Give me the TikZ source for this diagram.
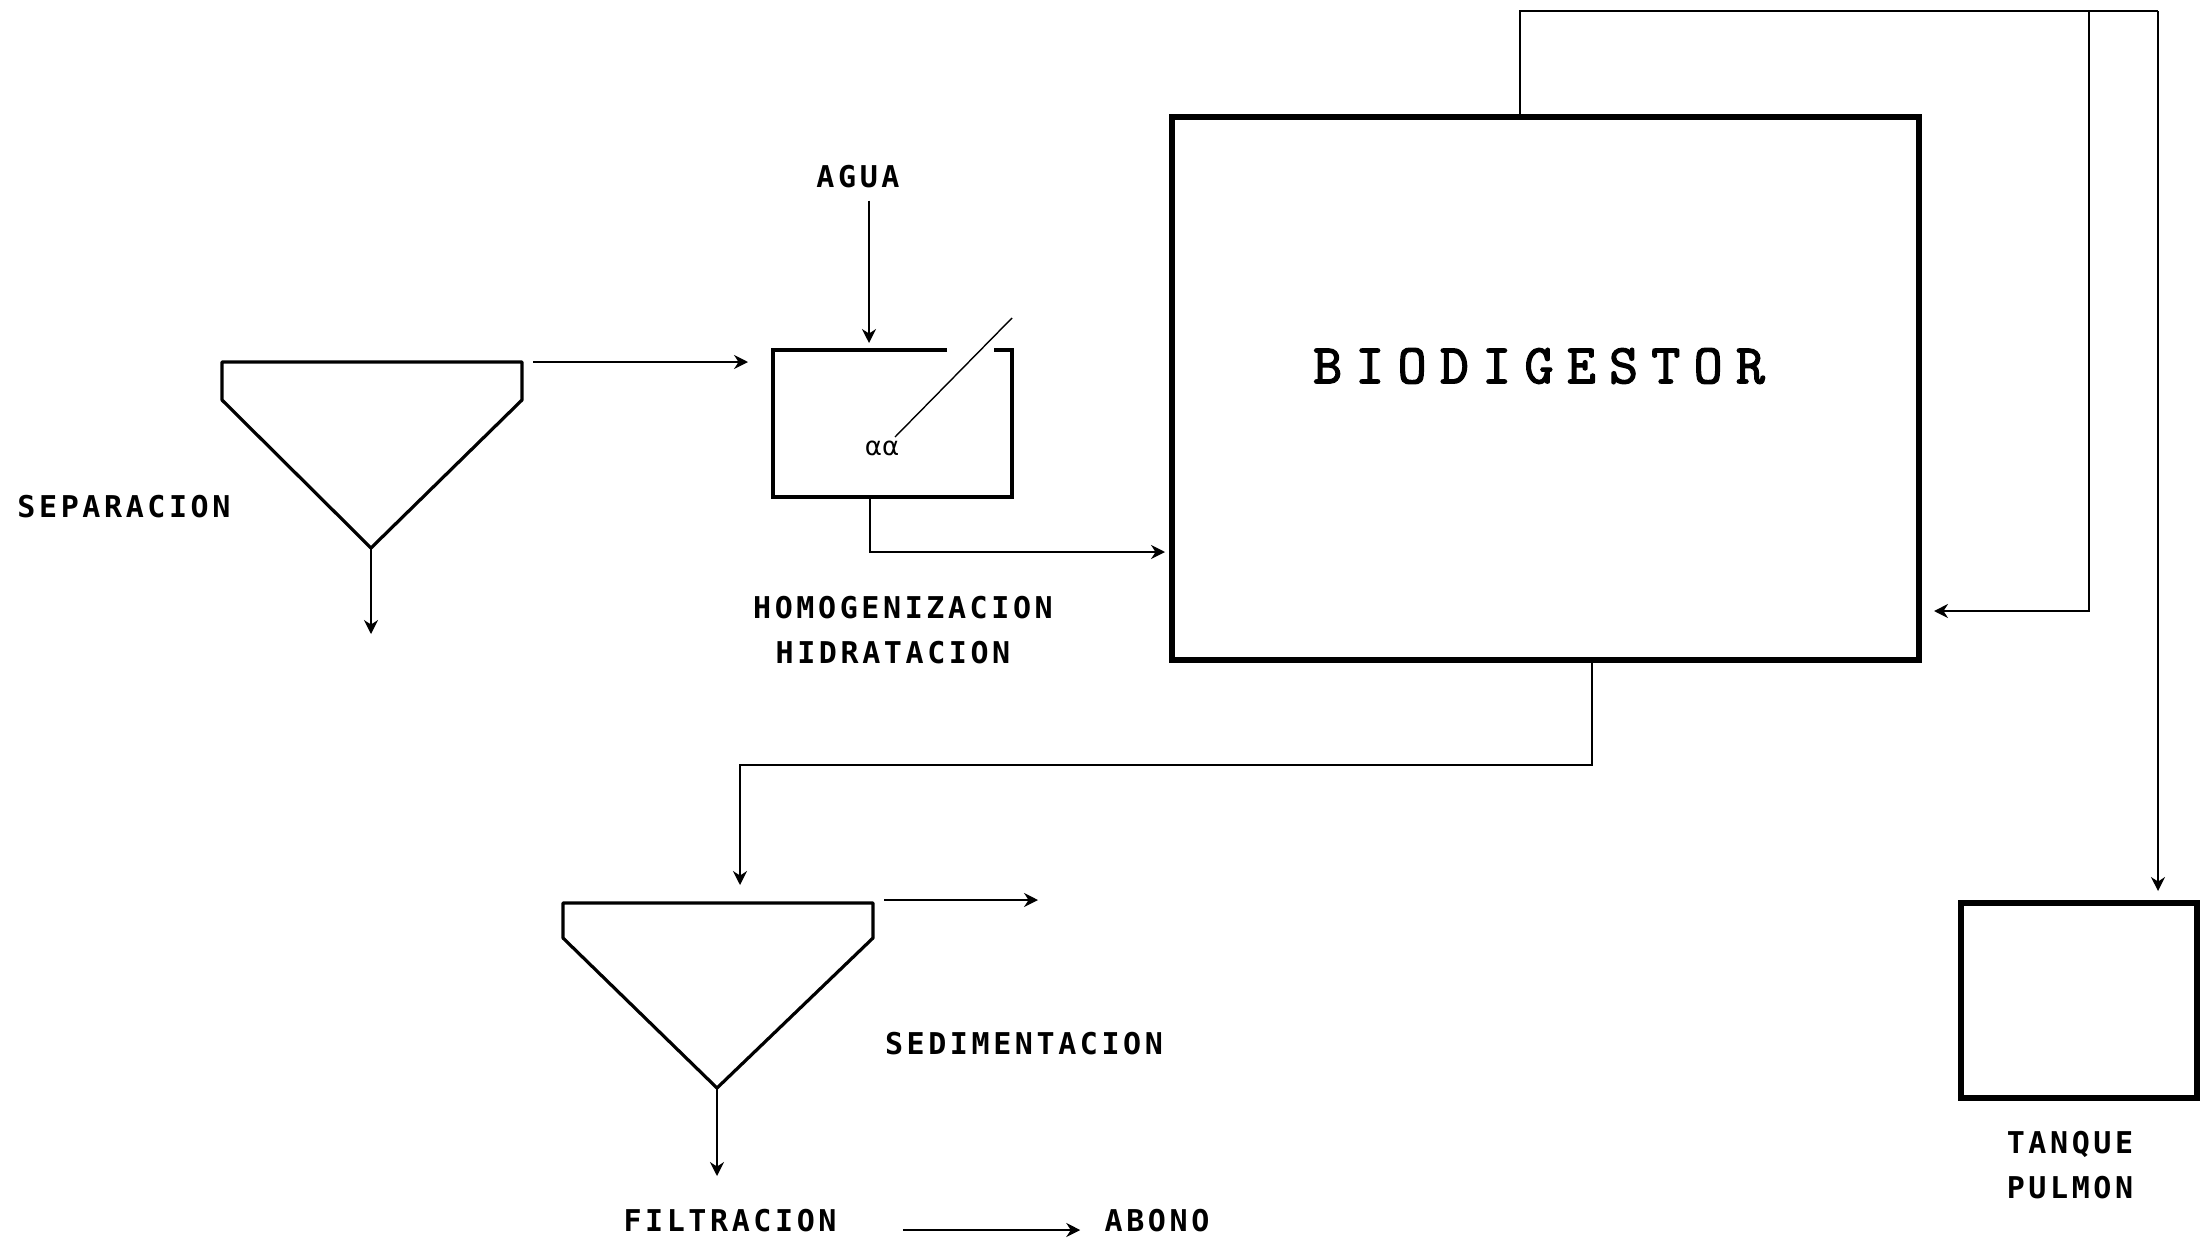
\documentclass[tikz,border=0pt]{standalone}
\usepackage{fontspec}
\usetikzlibrary{arrows.meta,calc}
\newfontfamily\lblfont[LetterSpace=12]{DejaVu Sans Mono}
\newfontfamily\bigfont[LetterSpace=24,FakeBold=2.5]{Latin Modern Mono}
\newfontfamily\greekfont{DejaVu Sans}
\tikzset{
  arr/.style={-{Stealth[length=7pt,width=7pt]}, line width=0.8pt},
  conn/.style={line width=0.8pt},
  funnel/.style={line width=1.6pt, line join=round},
  thinbox/.style={line width=1.6pt},
  thickbox/.style={draw, line width=2.6pt, inner sep=0pt},
  lbl/.style={font=\lblfont\bfseries\fontsize{15}{17}\selectfont, inner sep=0pt},
}
\begin{document}
\begin{tikzpicture}[x=0.5pt,y=-0.5pt]
\useasboundingbox (0,0) rectangle (2201,1248);
\fill[white] (0,0) rectangle (2201,1248);

% ---- main boxes ----
\node[thickbox, minimum width=373.5pt, minimum height=271.5pt] (bio) at (1545.5,388.5) {};
\node[font=\bigfont\fontsize{28}{30}\selectfont, inner sep=0pt] (biot) at (1539,366) {BIODIGESTOR};
\node[thickbox, minimum width=118pt, minimum height=97.5pt] (tank) at (2079,1000.5) {};
\node[minimum width=119.5pt, minimum height=73.5pt, inner sep=0pt, outer sep=0pt] (homo) at (892.5,423.5) {};
\draw[thinbox] (947,350) -- (homo.north west) -- (homo.south west) -- (homo.south east) -- (homo.north east) -- (994,350);
\coordinate (diagA) at (895,437);
\coordinate (diagB) at (1012,318);
\draw[line width=0.7pt] (diagA) -- (diagB);
\node[font=\greekfont\fontsize{13}{15}\selectfont, inner sep=0pt] (alpha) at (882,448) {αα};

% ---- separation funnel ----
\coordinate (sepTL) at (222,362);
\coordinate (sepTR) at (522,362);
\coordinate (sepL) at (222,400);
\coordinate (sepR) at (522,400);
\coordinate (sepA) at (371,548);
\draw[funnel] (sepL) -- (sepTL) -- (sepTR) -- (sepR) -- (sepA) -- cycle;
\coordinate (sepOut) at (371,634);

% ---- sedimentation funnel ----
\coordinate (sedTL) at (563,903);
\coordinate (sedTR) at (873,903);
\coordinate (sedL) at (563,938);
\coordinate (sedR) at (873,938);
\coordinate (sedA) at (717,1088);
\draw[funnel] (sedL) -- (sedTL) -- (sedTR) -- (sedR) -- (sedA) -- cycle;
\coordinate (sedIn) at (740,903);
\coordinate (sedOut) at (717,1176);
\coordinate (sedGas) at (1038,900);

% ---- labels ----
\node[lbl] (agua) at (858,177) {AGUA};
\node[lbl] (sep) at (124,507) {SEPARACION};
\node[lbl] (hom1) at (903,608) {HOMOGENIZACION};
\node[lbl] (hom2) at (893,653) {HIDRATACION};
\node[lbl] (sed) at (1024,1044) {SEDIMENTACION};
\node[lbl] (filt) at (730,1221) {FILTRACION};
\node[lbl] (abono) at (1157,1221) {ABONO};
\node[lbl] (tq1) at (2070,1144) {TANQUE};
\node[lbl] (tq2) at (2070,1188) {PULMON};

% ---- connectors ----
\coordinate (aguaIn) at (869,350);
\draw[arr, shorten >=3.5pt] (aguaIn |- agua.south) ++(0,12) -- (aguaIn);
\draw[arr, shorten <=5.5pt, shorten >=12.5pt] (sepTR) -- (sepTR -| homo.west);
\draw[arr] (sepA) -- (sepOut);
\coordinate (homoOut) at (870,497);
\coordinate (bioIn) at (1172,552);
\draw[arr, shorten >=3.5pt] (homoOut) |- (bioIn);
\coordinate (bioOut) at (1592,660);
\draw[arr, shorten >=9pt] (bioOut) -- ++(0,105) -| (sedIn);
\draw[arr, shorten <=5.5pt] ([yshift=1.5pt]sedTR) -- (sedGas);
\draw[arr] (sedA) -- (sedOut);
\draw[arr, shorten <=33pt, shorten >=12pt] ([yshift=-4.5pt]filt.east) -- ([yshift=-4.5pt]abono.west);

% ---- gas loop ----
\coordinate (loopTL) at (1520,11);
\coordinate (loopJ) at (2089,11);
\coordinate (loopTR) at (2158,11);
\coordinate (tankIn) at (2158,903);
\coordinate (bioRet) at (1919,611);
\draw[conn] (bio.north -| loopTL) -- (loopTL) -- (loopTR);
\draw[arr, shorten >=6pt] (loopTR) -- (tankIn);
\draw[arr, shorten >=7.5pt] (loopJ) |- (bioRet);
\end{tikzpicture}
\end{document}
